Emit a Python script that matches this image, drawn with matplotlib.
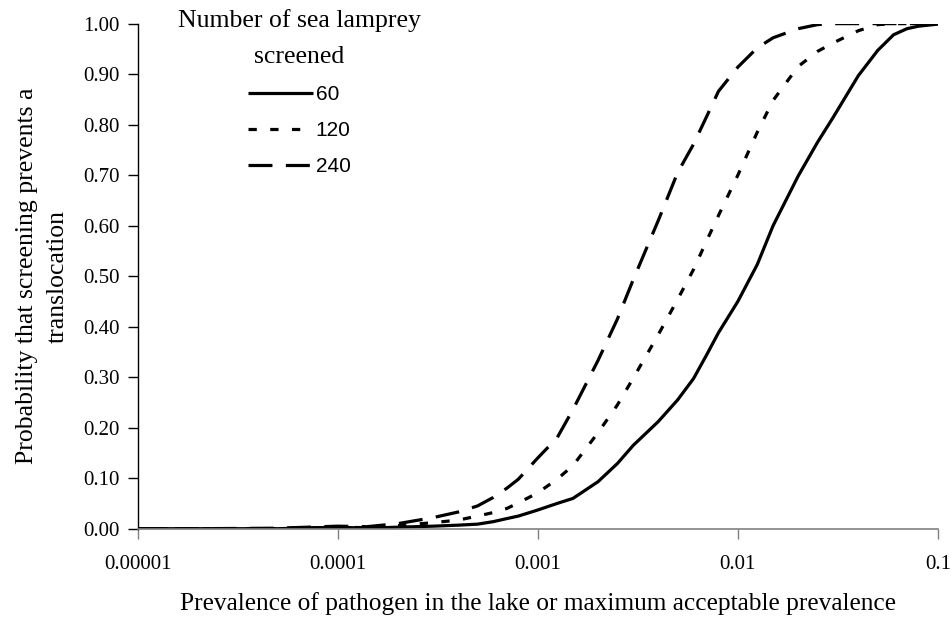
import matplotlib
matplotlib.use("Agg")
import matplotlib.pyplot as plt
import numpy as np

prevalence = [1e-5, 2e-5, 5e-5, 1e-4, 1.4e-4, 2e-4, 3e-4, 4e-4, 5e-4, 6e-4, 7e-4, 8e-4,
              1e-3, 1.25e-3, 1.5e-3, 2e-3, 2.5e-3, 3e-3, 4e-3, 5e-3, 6e-3, 7e-3, 8e-3,
              1e-2, 1.25e-2, 1.5e-2, 2e-2, 2.5e-2, 3e-2, 4e-2, 5e-2, 6e-2, 7e-2, 8e-2, 1e-1]

n60 = [0, 0, 0, 0.003, 0.001, 0.003, 0.005, 0.007, 0.009, 0.014, 0.02, 0.025,
       0.037, 0.05, 0.06, 0.093, 0.129, 0.165, 0.212, 0.255, 0.297, 0.345, 0.388,
       0.45, 0.523, 0.600, 0.698, 0.765, 0.815, 0.897, 0.947, 0.978, 0.99, 0.995, 0.999]

n120 = [0, 0, 0, 0.003, 0.002, 0.006, 0.012, 0.017, 0.025, 0.032, 0.04, 0.051,
        0.071, 0.098, 0.125, 0.19, 0.245, 0.298, 0.384, 0.454, 0.513, 0.571, 0.62,
        0.70, 0.785, 0.848, 0.915, 0.945, 0.962, 0.986, 0.998, 1.0, 1.0, 1.0, 1.0]

n240 = [0, 0, 0.001, 0.005, 0.004, 0.01, 0.022, 0.033, 0.045, 0.062, 0.08, 0.098,
        0.14, 0.18, 0.236, 0.333, 0.415, 0.493, 0.61, 0.705, 0.761, 0.817, 0.866,
        0.914, 0.952, 0.972, 0.99, 0.998, 1.0, 1.0, 1.0, 1.0, 1.0, 1.0, 1.0]

series_labels = ["60", "120", "240"]
x_ticks = [1e-5, 1e-4, 1e-3, 1e-2, 1e-1]
x_ticklabels = ["0.00001", "0.0001", "0.001", "0.01", "0.1"]
y_ticks = [0.0, 0.1, 0.2, 0.3, 0.4, 0.5, 0.6, 0.7, 0.8, 0.9, 1.0]

serif = "Liberation Serif"
sans = "Liberation Sans"

fig = plt.figure(figsize=(9.51, 6.22), dpi=100)
ax = fig.add_axes([0.1446, 0.15, 0.9863 - 0.1446, 0.962 - 0.15])

lw = 2.3
styles = ["-", (0, (2.6, 4.2)), (0, (7.5, 4.2))]
for vals, lab, ls in zip([n60, n120, n240], series_labels, styles):
    ax.plot(prevalence, vals, color="black", lw=lw, linestyle=ls, label=lab,
            solid_capstyle="butt", dash_capstyle="butt")

ax.set_xscale("log")
ax.set_xlim(1e-5, 1e-1)
ax.set_ylim(0, 1.0)
ax.set_xticks(x_ticks)
ax.set_xticklabels(x_ticklabels)
ax.xaxis.set_minor_locator(matplotlib.ticker.NullLocator())
ax.set_yticks(y_ticks)
ax.set_yticklabels([f"{v:.2f}" for v in y_ticks])

for s in ["top", "right"]:
    ax.spines[s].set_visible(False)
ax.spines["bottom"].set_color("#808080")
ax.spines["bottom"].set_linewidth(1.2)
ax.spines["left"].set_color("black")
ax.spines["left"].set_linewidth(1.0)
ax.tick_params(axis="x", direction="out", length=7, width=1.0, color="#808080",
               pad=12, labelsize=15)
ax.tick_params(axis="y", direction="out", length=7, width=1.0, color="black",
               pad=6, labelsize=15)
for t in ax.get_xticklabels() + ax.get_yticklabels():
    t.set_fontfamily(serif)

ax.set_xlabel("Prevalence of pathogen in the lake or maximum acceptable prevalence",
              fontsize=18.3, fontfamily=serif, labelpad=13)
ax.set_ylabel("Probability that screening prevents a\ntranslocation",
              fontsize=18.5, fontfamily=serif, labelpad=10, linespacing=1.55)

leg = ax.legend(title="Number of sea lamprey\nscreened", frameon=False,
                loc="upper left", bbox_to_anchor=(0.04, 1.045),
                prop={"family": sans, "size": 15},
                handlelength=3.1, handletextpad=0.15, labelspacing=0.82,
                borderaxespad=0, alignment="center")
title = leg.get_title()
title.set_fontfamily(serif)
title.set_fontsize(18.5)
title.set_linespacing(1.8)
title.set_multialignment("center")

fig.savefig("out.png", dpi=100, facecolor="white")
